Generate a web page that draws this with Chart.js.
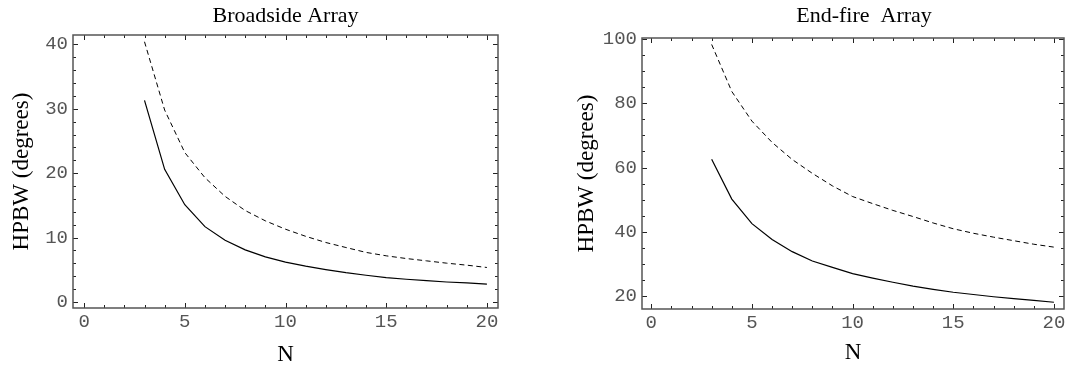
<!DOCTYPE html>
<html>
<head>
<meta charset="utf-8">
<title>HPBW vs N</title>
<script src="https://cdn.jsdelivr.net/npm/chart.js@4.4.1/dist/chart.umd.min.js"></script>
<style>
  html, body { margin: 0; padding: 0; background: #fff; }
  #wrap { position: relative; width: 1088px; height: 369px; overflow: hidden; }
  .panel { position: absolute; top: 0; width: 544px; height: 369px; }
  #leftPanel { left: 0; }
  #rightPanel { left: 544px; }
</style>
</head>
<body>
<div id="wrap">
  <div class="panel" id="leftPanel"><canvas id="broadsideChart" width="544" height="369"></canvas></div>
  <div class="panel" id="rightPanel"><canvas id="endfireChart" width="544" height="369"></canvas></div>
</div>
<script>
// ===================================
// Half-power beamwidth vs number of elements
// ===================================

const arrayN = [3, 4, 5, 6, 7, 8, 9, 10, 11, 12, 13, 14, 15, 16, 17, 18, 19, 20];

// Broadside array (degrees)
const broadsideSolid  = [31.3, 20.6, 15.1, 11.7, 9.6, 8.1, 7.0, 6.18, 5.56, 5.03, 4.55, 4.15, 3.79, 3.53, 3.32, 3.11, 2.96, 2.78];
const broadsideDashed = [40.4, 29.8, 23.2, 19.3, 16.4, 14.2, 12.6, 11.3, 10.2, 9.24, 8.46, 7.7, 7.17, 6.75, 6.39, 6.03, 5.72, 5.36];

// End-fire array (degrees)
const endfireSolid  = [62.6, 50.2, 42.6, 37.7, 33.9, 31.0, 29.0, 27.1, 25.7, 24.4, 23.2, 22.2, 21.3, 20.6, 19.9, 19.3, 18.8, 18.2];
const endfireDashed = [98.2, 83.6, 74.4, 67.8, 62.5, 58.2, 54.3, 51.0, 48.8, 46.7, 44.8, 42.8, 41.0, 39.6, 38.4, 37.3, 36.2, 35.3];

// Tick labels
const nTicks = [0, 5, 10, 15, 20];
const broadsideTicks = [0, 10, 20, 30, 40];
const endfireTicks = [20, 40, 60, 80, 100];

const SERIF = "'Liberation Serif', 'Times New Roman', serif";
const MONO = "'Liberation Mono', 'Courier New', monospace";

// Frame with inward major/minor ticks on all four sides
const framePlugin = {
    id: 'frame',
    afterDraw(chart, args, opts) {
        const { ctx, chartArea: a, scales: { x, y } } = chart;
        ctx.save();
        ctx.strokeStyle = '#222';
        ctx.lineWidth = 1;
        ctx.beginPath();

        for (let i = Math.ceil(x.min / opts.xMinor); i * opts.xMinor <= x.max; i++) {
            const v = i * opts.xMinor;
            const len = opts.xMajor.includes(v) ? 5 : 3;
            const px = Math.round(x.getPixelForValue(v)) + 0.5;
            ctx.moveTo(px, a.bottom); ctx.lineTo(px, a.bottom - len);
            ctx.moveTo(px, a.top); ctx.lineTo(px, a.top + len);
        }
        for (let i = Math.ceil(y.min / opts.yMinor); i * opts.yMinor <= y.max; i++) {
            const v = i * opts.yMinor;
            const len = opts.yMajor.includes(v) ? 5 : 3;
            const py = Math.round(y.getPixelForValue(v)) + 0.5;
            ctx.moveTo(a.left, py); ctx.lineTo(a.left + len, py);
            ctx.moveTo(a.right, py); ctx.lineTo(a.right - len, py);
        }
        ctx.stroke();

        ctx.strokeStyle = '#555';
        ctx.lineWidth = 1.5;
        ctx.strokeRect(a.left, a.top, a.right - a.left, a.bottom - a.top);
        ctx.restore();
    }
};

function toPoints(values) {
    return arrayN.map((n, i) => ({ x: n, y: values[i] }));
}

function makeChart(canvasId, setup) {
    const ctx = document.getElementById(canvasId);

    return new Chart(ctx, {
        type: 'line',
        data: {
            datasets: [
                {
                    data: toPoints(setup.solid),
                    borderColor: '#000',
                    borderWidth: 1.2,
                    pointRadius: 0,
                    tension: 0
                },
                {
                    data: toPoints(setup.dashed),
                    borderColor: '#000',
                    borderWidth: 1,
                    borderDash: [5, 3.5],
                    pointRadius: 0,
                    tension: 0
                }
            ]
        },
        options: {
            responsive: false,
            animation: false,
            devicePixelRatio: 1,
            layout: {
                padding: { left: 0, right: setup.padRight, top: 0, bottom: 0 }
            },
            plugins: {
                legend: { display: false },
                tooltip: { enabled: false },
                title: {
                    display: true,
                    text: setup.title,
                    fullSize: false,
                    color: '#000',
                    font: { family: SERIF, size: 22, weight: 'normal', lineHeight: 1.2 },
                    padding: { top: 3, bottom: setup.frameTop - 29.4 }
                },
                frame: setup.frame
            },
            scales: {
                x: {
                    type: 'linear',
                    min: setup.xMin,
                    max: setup.xMax,
                    afterBuildTicks: scale => { scale.ticks = nTicks.map(v => ({ value: v })); },
                    afterFit: scale => { scale.height = 369 - setup.frameBottom; },
                    grid: { display: false, drawTicks: false },
                    border: { display: false },
                    ticks: {
                        color: '#555',
                        padding: 3,
                        maxRotation: 0,
                        autoSkip: false,
                        font: { family: MONO, size: 19 }
                    },
                    title: {
                        display: true,
                        text: 'N',
                        color: '#000',
                        font: { family: SERIF, size: 23, lineHeight: 1.2 },
                        padding: { top: 0, bottom: setup.nTitlePad }
                    }
                },
                y: {
                    type: 'linear',
                    min: setup.yMin,
                    max: setup.yMax,
                    afterBuildTicks: scale => { scale.ticks = setup.yTicks.map(v => ({ value: v })); },
                    afterFit: scale => { scale.width = setup.frameLeft; },
                    grid: { display: false, drawTicks: false },
                    border: { display: false },
                    ticks: {
                        color: '#555',
                        padding: 5,
                        autoSkip: false,
                        font: { family: MONO, size: 19 }
                    },
                    title: {
                        display: true,
                        text: 'HPBW (degrees)',
                        color: '#000',
                        font: { family: SERIF, size: 23, lineHeight: 1.2 },
                        padding: { top: setup.yTitlePad, bottom: 0 }
                    }
                }
            }
        },
        plugins: [framePlugin]
    });
}

makeChart('broadsideChart', {
    title: 'Broadside Array',
    solid: broadsideSolid,
    dashed: broadsideDashed,
    yTicks: broadsideTicks,
    xMin: -0.55, xMax: 20.55,
    yMin: -0.93, yMax: 41.45,
    frameLeft: 73, frameTop: 35, frameBottom: 308,
    padRight: 46,
    yTitlePad: 8,
    nTitlePad: 0,
    frame: { xMinor: 1, xMajor: nTicks, yMinor: 2, yMajor: broadsideTicks }
});

makeChart('endfireChart', {
    // en spaces in front nudge the centred title to the right, as in the print
    title: '\u2002\u2002End-fire  Array',
    solid: endfireSolid,
    dashed: endfireDashed,
    yTicks: endfireTicks,
    xMin: -0.46, xMax: 20.5,
    yMin: 16.1, yMax: 100.2,
    frameLeft: 98, frameTop: 38, frameBottom: 309,
    padRight: 24,
    yTitlePad: 29,
    nTitlePad: 2,
    frame: { xMinor: 1, xMajor: nTicks, yMinor: 5, yMajor: endfireTicks }
});
</script>
</body>
</html>
